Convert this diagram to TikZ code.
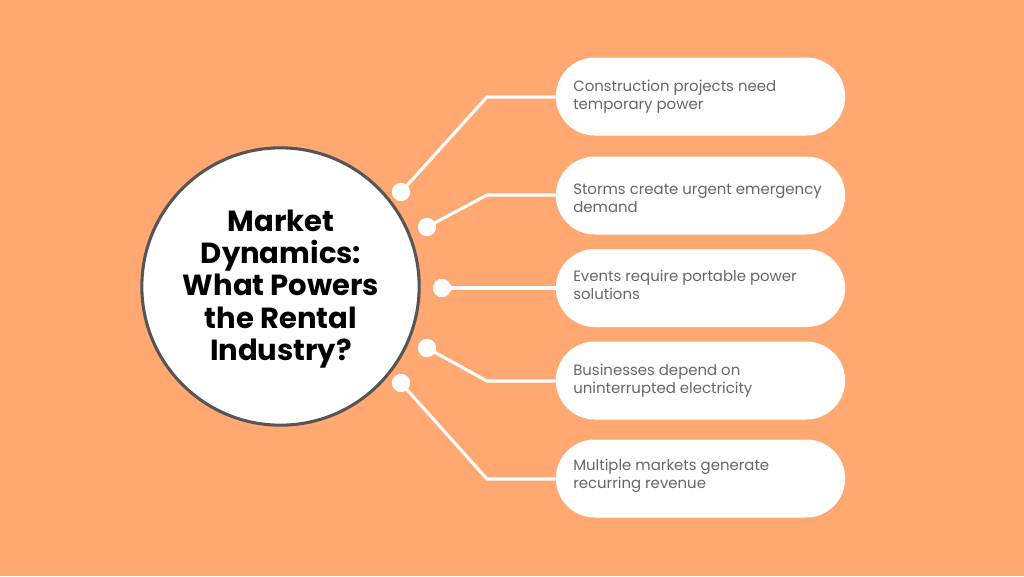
\documentclass[tikz,border=0pt]{standalone}
\usepackage{fontspec}
\setmainfont{Poppins}
\definecolor{bg}{HTML}{FFA872}
\definecolor{ring}{HTML}{555555}
\definecolor{itemtext}{HTML}{666666}
\begin{document}
\begin{tikzpicture}[x=0.75pt,y=-0.75pt,
  pill/.style={draw=none,fill=white,minimum width=217pt,minimum height=58.5pt,rounded corners=29.25pt,inner sep=0pt},
  itemlabel/.style={anchor=west,align=left,text=itemtext,font=\fontsize{11.2}{13.6}\selectfont,inner sep=0pt},
  dot/.style={circle,fill=white,draw=none,minimum size=13.5pt,inner sep=0pt},
  link/.style={draw=white,line width=2.3pt,line join=miter}
]
\useasboundingbox (0,0) rectangle (1024,576);
\fill[bg] (0,0) rectangle (1024,576);

% central circle
\node[circle,fill=white,draw=ring,line width=2.3pt,minimum size=208pt,inner sep=0pt] (hub) at (280.5,286.5) {};
\node[align=center,font=\fontsize{21.8}{24.2}\selectfont\bfseries,text=black] (title) at (281,289)
  {Market\\Dynamics:\\What Powers\\the Rental\\Industry?};

% pills
\node[pill] (p1) at (700.5,96.5) {};
\node[pill] (p2) at (700.5,195.5) {};
\node[pill] (p3) at (700.5,288) {};
\node[pill] (p4) at (700.5,380.5) {};
\node[pill] (p5) at (700.5,478.5) {};

\node[itemlabel] (t1) at (573,97) {Construction projects need\\temporary power};
\node[itemlabel] (t2) at (573,198) {Storms create urgent emergency\\demand};
\node[itemlabel] (t3) at (573,285) {Events require portable power\\solutions};
\node[itemlabel] (t4) at (573,381) {Businesses depend on\\uninterrupted electricity};
\node[itemlabel] (t5) at (573,476) {Multiple markets generate\\recurring revenue};

% dots
\node[dot] (d1) at (401,192) {};
\node[dot] (d2) at (427,227) {};
\node[dot] (d3) at (442,288) {};
\node[dot] (d4) at (427,348) {};
\node[dot] (d5) at (401,383) {};

% bends
\coordinate (b1) at (487,97);
\coordinate (b2) at (487,195);
\coordinate (b4) at (487,381);
\coordinate (b5) at (487,479);

\draw[link] (d1.center) -- (b1) -- (p1.west |- b1);
\draw[link] (d2.center) -- (b2) -- (p2.west |- b2);
\draw[link] (d3.center) -- (p3.west);
\draw[link] (d4.center) -- (b4) -- (p4.west |- b4);
\draw[link] (d5.center) -- (b5) -- (p5.west |- b5);

\node[dot] at (d1) {};
\node[dot] at (d2) {};
\node[dot] at (d3) {};
\node[dot] at (d4) {};
\node[dot] at (d5) {};
\end{tikzpicture}
\end{document}
